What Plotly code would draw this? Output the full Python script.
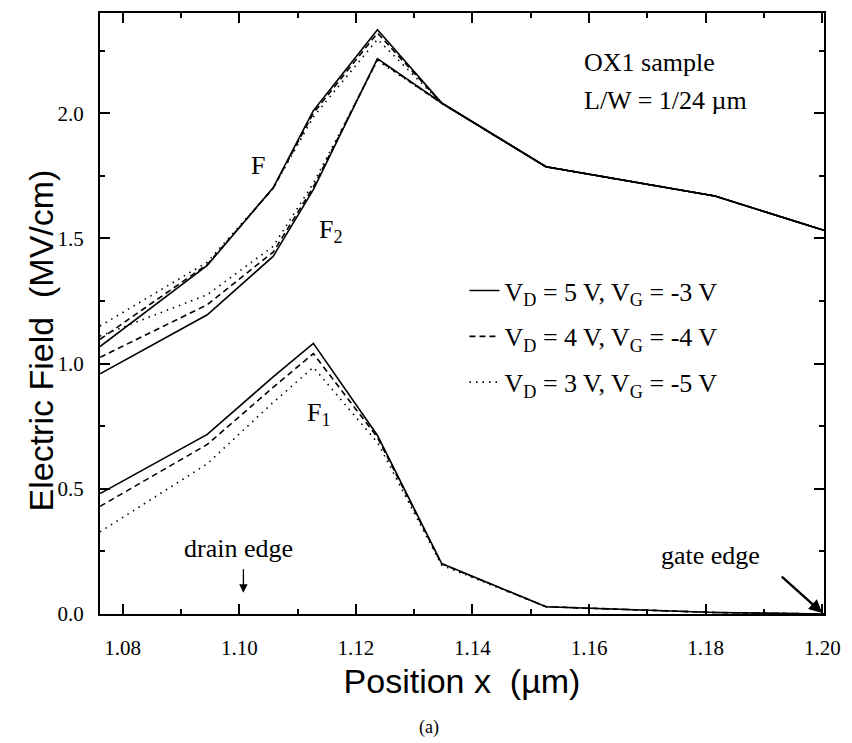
import plotly.graph_objects as go

# ---- data ----
position_um = [1.0761, 1.0945, 1.1058, 1.1127, 1.1237, 1.1347, 1.1526, 1.1816, 1.2003]

conditions = ["V<sub>D</sub> = 5 V, V<sub>G</sub> = -3 V",
              "V<sub>D</sub> = 4 V, V<sub>G</sub> = -4 V",
              "V<sub>D</sub> = 3 V, V<sub>G</sub> = -5 V"]

F_5V = [1.068, 1.392, 1.702, 2.010, 2.333, 2.041, 1.786, 1.669, 1.532]
F_4V = [1.097, 1.396, 1.700, 2.000, 2.320, 2.040, 1.786, 1.669, 1.532]
F_3V = [1.150, 1.405, 1.700, 1.985, 2.295, 2.040, 1.786, 1.669, 1.532]

F2_5V = [0.959, 1.195, 1.428, 1.695, 2.218, 2.041, 1.786, 1.669, 1.532]
F2_4V = [1.025, 1.235, 1.445, 1.705, 2.215, 2.040, 1.786, 1.669, 1.532]
F2_3V = [1.110, 1.275, 1.468, 1.720, 2.210, 2.040, 1.786, 1.669, 1.532]

F1_5V = [0.481, 0.717, 0.947, 1.081, 0.713, 0.202, 0.029, 0.006, 0.0]
F1_4V = [0.430, 0.677, 0.905, 1.040, 0.705, 0.200, 0.029, 0.006, 0.0]
F1_3V = [0.328, 0.600, 0.845, 0.985, 0.685, 0.195, 0.029, 0.006, 0.0]

series = [
    (conditions[0], "solid", [F_5V, F2_5V, F1_5V]),
    (conditions[1], "6px,4px", [F_4V, F2_4V, F1_4V]),
    (conditions[2], "1.5px,5px", [F_3V, F2_3V, F1_3V]),
]

SERIF = "Liberation Serif, Times New Roman, serif"
SANS = "Liberation Sans, Arial, sans-serif"

fig = go.Figure()
for gi, (name, dash, curves) in enumerate(series):
    for ci, ys in enumerate(curves):
        fig.add_trace(go.Scatter(
            x=position_um, y=ys, mode="lines", name=name,
            legendgroup=f"g{gi}", showlegend=(ci == 0),
            line=dict(color="black", width=1.6, dash=dash),
            hoverinfo="skip"))

axis_common = dict(
    showline=True, linecolor="black", linewidth=2, mirror="allticks",
    ticks="inside", ticklen=10, tickwidth=1.5, tickcolor="black",
    showgrid=False, zeroline=False,
    tickfont=dict(family=SERIF, size=21, color="black"),
)

fig.update_xaxes(
    range=[1.0761, 1.2003], tickvals=[1.08, 1.10, 1.12, 1.14, 1.16, 1.18, 1.20],
    ticktext=["1.08", "1.10", "1.12", "1.14", "1.16", "1.18", "1.20"],
    minor=dict(dtick=0.01, tick0=1.07, ticks="inside", ticklen=5, tickwidth=1.5, tickcolor="black"),
    ticklabelstandoff=14,
    title=dict(text="Position x  (\u00b5m)", font=dict(family=SANS, size=34, color="black"), standoff=10),
    **axis_common)
fig.update_yaxes(
    range=[0, 2.4], tickvals=[0, 0.5, 1.0, 1.5, 2.0],
    ticktext=["0.0", "0.5", "1.0", "1.5", "2.0"],
    minor=dict(dtick=0.25, tick0=0, ticks="inside", ticklen=5, tickwidth=1.5, tickcolor="black"),
    ticklabelstandoff=10,
    **axis_common)

# y-axis title (placed as rotated text left of the axis)
fig.add_annotation(xref="paper", yref="paper", x=(40 - 100) / 731, y=(614 - 340) / 603,
                   text="Electric Field  (MV/cm)", textangle=-90, showarrow=False,
                   xanchor="center", yanchor="middle",
                   font=dict(family=SANS, size=34, color="black"))

ann_font = dict(family=SERIF, size=26, color="black")
annotations = [
    dict(x=1.1017, y=1.79, text="F", xanchor="left", yanchor="middle"),
    dict(x=1.1133, y=1.53, text="F<sub>2</sub>", xanchor="left", yanchor="middle"),
    dict(x=1.1112, y=0.80, text="F<sub>1</sub>", xanchor="left", yanchor="middle"),
    dict(x=1.1588, y=2.203, text="OX1 sample", xanchor="left", yanchor="middle"),
    dict(x=1.1588, y=2.052, text="L/W = 1/24 \u00b5m", xanchor="left", yanchor="middle"),
    dict(x=1.0999, y=0.263, text="drain edge", xanchor="center", yanchor="middle"),
    dict(x=1.1809, y=0.235, text="gate edge", xanchor="center", yanchor="middle"),
]
for a in annotations:
    fig.add_annotation(xref="x", yref="y", showarrow=False, font=ann_font, **a)

# arrows
fig.add_annotation(xref="x", yref="y", x=1.1007, y=0.085, ax=1.1007, ay=0.185,
                   axref="x", ayref="y", text="", showarrow=True,
                   arrowhead=2, arrowsize=1.3, arrowwidth=1.3, arrowcolor="black")
fig.add_annotation(xref="x", yref="y", x=1.2000, y=0.004, ax=1.1928, ay=0.155,
                   axref="x", ayref="y", text="", showarrow=True,
                   arrowhead=2, arrowsize=1.1, arrowwidth=2.4, arrowcolor="black")

fig.add_annotation(xref="paper", yref="paper", x=(432 - 100) / 731, y=-(728 - 614) / 603,
                   text="(a)", showarrow=False, xanchor="center", yanchor="middle",
                   font=dict(family=SERIF, size=18, color="black"))

fig.update_layout(
    width=852, height=743,
    margin=dict(l=100, r=21, t=11, b=129),
    paper_bgcolor="white", plot_bgcolor="white",
    showlegend=True,
    legend=dict(x=(468 - 100) / 731, y=(614 - 266) / 603, xanchor="left", yanchor="top",
                bgcolor="rgba(0,0,0,0)", font=dict(family=SERIF, size=26, color="black"),
                tracegroupgap=9, itemwidth=30),
)

fig.write_html("out.html")
